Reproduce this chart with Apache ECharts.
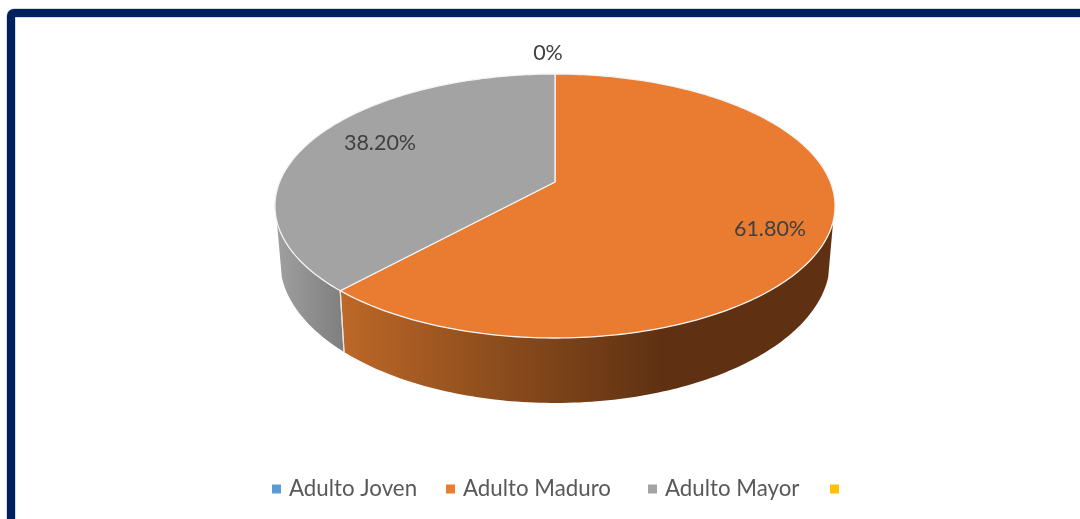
<!DOCTYPE html>
<html>
<head>
<meta charset="utf-8">
<style>html,body{margin:0;padding:0;background:#fff;overflow:hidden}#c{width:1080px;height:519px}</style>
<script src="https://cdn.jsdelivr.net/npm/echarts@6/dist/echarts.min.js"></script>
</head>
<body>
<div id="c"></div>
<script>
const categories = ['Adulto Joven', 'Adulto Maduro', 'Adulto Mayor', ' '];
const values = [0, 61.8, 38.2, 0];
const valueLabels = ['0%', '61.80%', '38.20%', ''];
const colors = ['#5b9bd5', '#e97c30', '#a3a3a3', '#ffc000'];

// presentation only
const labelAt = [[548, 53], [770, 229], [380, 143], null];
const legendLeft = [267, 441, 643, 825];
const CX = 555, PERSP = -0.1818;
const TOP = { R: 275.4, a: 94.55, b: 182 };
const BOT = { R: 270.5, a: 94.9, b: 234.8 };
const FRONT = [107, 253];
const wallFill = {
  1: [[0, '#bd6828'], [0.3, '#8f4e1d'], [0.65, '#5f3112'], [1, '#5f3112']],
  2: [[0, '#a0a0a0'], [1, '#7e7e7e']]
};
const wallSpan = { 1: [340, 835], 2: [276, 344] };

function project(deg, d) {
  const t = deg * Math.PI / 180, u = Math.sin(t), v = -Math.cos(t), w = 1 + PERSP * v;
  return [CX + d.R * u / w, (d.a * v + d.b) / w];
}
function arc(from, to, d) {
  const pts = [], n = Math.max(1, Math.ceil(Math.abs(to - from)));
  for (let i = 0; i <= n; i++) pts.push(project(from + (to - from) * i / n, d));
  return pts;
}
const total = values.reduce((s, v) => s + v, 0);

function renderSlice(params, api) {
  const k = params.seriesIndex;
  const before = values.slice(0, k).reduce((s, v) => s + v, 0);
  const start = before / total * 360, end = start + api.value(0) / total * 360;
  const children = [];
  if (end > start) {
    const from = Math.max(start, FRONT[0]), to = Math.min(end, FRONT[1]);
    if (to > from) {
      const [x0, x1] = wallSpan[k];
      children.push({
        type: 'polygon', z2: 1,
        shape: { points: arc(from, to, TOP).concat(arc(to, from, BOT)) },
        style: {
          fill: new echarts.graphic.LinearGradient(x0, 0, x1, 0,
            wallFill[k].map(s => ({ offset: s[0], color: s[1] })), true),
          stroke: null
        }
      });
      const edge = k === 1 ? to : from;
      children.push({
        type: 'polyline', z2: 2,
        shape: { points: [project(edge, TOP), project(edge, BOT)] },
        style: { stroke: '#e4e4e4', lineWidth: 1.2, fill: null }
      });
    }
    children.push({
      type: 'polygon', z2: 3,
      shape: { points: [[CX, TOP.b]].concat(arc(start, end, TOP)) },
      style: { fill: colors[k], stroke: '#f4f4f4', lineWidth: 1.3, lineJoin: 'round' }
    });
  }
  if (labelAt[k]) {
    children.push({
      type: 'text', z2: 5,
      style: {
        x: labelAt[k][0], y: labelAt[k][1], text: valueLabels[k],
        fill: '#404040', font: '21.5px Lato', align: 'center', verticalAlign: 'middle'
      }
    });
  }
  return { type: 'group', children };
}

const chart = echarts.init(document.getElementById('c'), null, { renderer: 'canvas' });
chart.setOption({
  animation: false,
  backgroundColor: '#fff',
  graphic: [
    { type: 'rect', silent: true, z: 0, shape: { x: 11, y: 13, width: 1300, height: 1000, r: 3 },
      style: { fill: null, stroke: '#a9b3c6', lineWidth: 9 } },
    { type: 'rect', silent: true, z: 1, shape: { x: 11, y: 13, width: 1300, height: 1000, r: 3 },
      style: { fill: null, stroke: '#002060', lineWidth: 8 } }
  ],
  legend: categories.map((name, i) => ({
    left: legendLeft[i], top: 473, orient: 'horizontal', icon: 'rect',
    itemWidth: 9, itemHeight: 9,
    textStyle: { color: '#595959', fontFamily: 'Lato', fontSize: 22.3, padding: [0, 0, 0, 3] },
    data: [name],
    selectedMode: false
  })),
  series: categories.map((name, i) => ({
    type: 'custom', name, coordinateSystem: 'none',
    itemStyle: { color: colors[i] },
    silent: true,
    data: [[values[i]]],
    renderItem: renderSlice
  }))
});
</script>
</body>
</html>
